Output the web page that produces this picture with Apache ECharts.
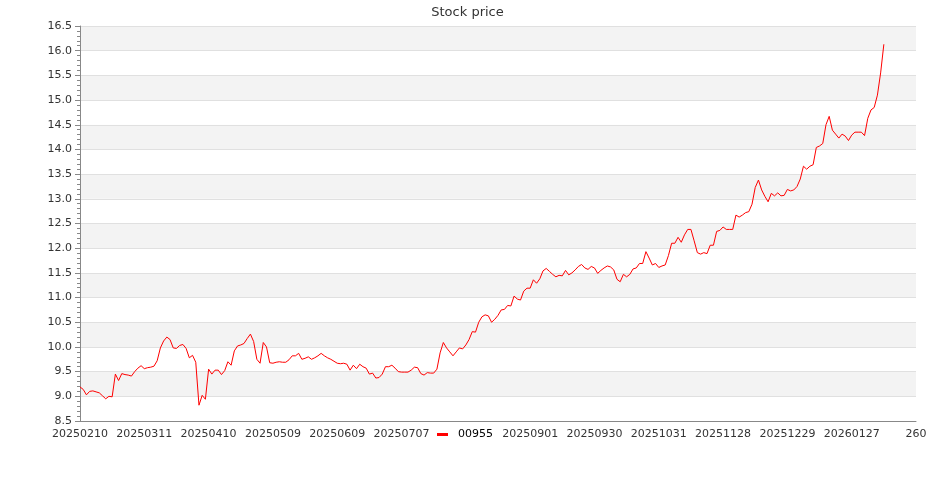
<!DOCTYPE html>
<html>
<head>
<meta charset="utf-8">
<script src="https://cdn.jsdelivr.net/npm/echarts@6/dist/echarts.min.js"></script>
<style>
html,body{margin:0;padding:0;background:#fff;}
#chart{width:935px;height:500px;}
</style>
</head>
<body>
<div id="chart"></div>
<script>
// ---- data ----
const seriesName = '00955';
const tickLabels = ['20250210','20250311','20250410','20250509','20250609','20250707','20250804',
  '20250901','20250930','20251031','20251128','20251229','20260127','260'];
const categoryCount = 261;
const prices = [
  9.19, 9.14, 9.03, 9.10, 9.11, 9.09, 9.07, 9.01, 8.95, 9.00,
  8.99, 9.45, 9.32, 9.46, 9.44, 9.43, 9.41, 9.50, 9.57, 9.62,
  9.56, 9.58, 9.59, 9.61, 9.72, 9.98, 10.12, 10.20, 10.15, 9.98,
  9.97, 10.03, 10.05, 9.97, 9.78, 9.83, 9.69, 8.82, 9.02, 8.94,
  9.55, 9.45, 9.53, 9.53, 9.44, 9.52, 9.70, 9.63, 9.92, 10.02,
  10.04, 10.07, 10.17, 10.26, 10.11, 9.75, 9.67, 10.09, 10.00, 9.68,
  9.67, 9.69, 9.70, 9.69, 9.69, 9.74, 9.82, 9.82, 9.87, 9.75,
  9.77, 9.80, 9.75, 9.78, 9.82, 9.87, 9.82, 9.78, 9.75, 9.71,
  9.67, 9.66, 9.67, 9.65, 9.53, 9.63, 9.56, 9.65, 9.60, 9.57,
  9.45, 9.47, 9.37, 9.38, 9.45, 9.60, 9.60, 9.63, 9.57, 9.50,
  9.49, 9.49, 9.49, 9.53, 9.59, 9.58, 9.46, 9.43, 9.48, 9.47,
  9.47, 9.55, 9.88, 10.09, 9.98, 9.90, 9.82, 9.90, 9.98, 9.96,
  10.04, 10.15, 10.31, 10.30, 10.50, 10.61, 10.65, 10.63, 10.50, 10.56,
  10.64, 10.75, 10.76, 10.84, 10.83, 11.03, 10.97, 10.95, 11.13, 11.19,
  11.19, 11.36, 11.29, 11.38, 11.54, 11.59, 11.53, 11.47, 11.42, 11.45,
  11.44, 11.55, 11.46, 11.50, 11.56, 11.63, 11.67, 11.60, 11.57, 11.63,
  11.60, 11.49, 11.55, 11.60, 11.64, 11.62, 11.56, 11.37, 11.32, 11.47,
  11.42, 11.47, 11.58, 11.60, 11.69, 11.69, 11.93, 11.80, 11.66, 11.69,
  11.61, 11.64, 11.66, 11.85, 12.10, 12.10, 12.22, 12.12, 12.27, 12.38,
  12.38, 12.15, 11.91, 11.88, 11.91, 11.89, 12.06, 12.06, 12.34, 12.36,
  12.43, 12.38, 12.38, 12.38, 12.67, 12.63, 12.67, 12.72, 12.74, 12.89,
  13.23, 13.38, 13.18, 13.05, 12.94, 13.11, 13.06, 13.12, 13.06, 13.07,
  13.19, 13.16, 13.18, 13.25, 13.40, 13.66, 13.60, 13.66, 13.69, 14.04,
  14.07, 14.12, 14.50, 14.67, 14.39, 14.31, 14.23, 14.31, 14.27, 14.18,
  14.29, 14.35, 14.35, 14.35, 14.28, 14.63, 14.80, 14.85, 15.10, 15.55,
  16.13
];
const yMin = 8.5, yMax = 16.5, yStep = 0.5;
const labelEvery = 20;

// ---- chart ----
const categories = Array.from({length: categoryCount}, (_, i) => String(i));
const font = 'DejaVu Sans';
const chart = echarts.init(document.getElementById('chart'), null, {renderer: 'canvas'});
chart.setOption({
  backgroundColor: '#ffffff',
  animation: false,
  textStyle: {fontFamily: font},
  title: {
    text: 'Stock price', left: 'center', top: 1,
    textStyle: {fontFamily: font, fontSize: 13, fontWeight: 'normal', color: '#333'}
  },
  legend: {
    data: [seriesName], top: 424, left: 432,
    backgroundColor: '#ffffff',
    icon: 'rect', itemWidth: 11, itemHeight: 3, itemGap: 10,
    textStyle: {fontFamily: font, fontSize: 11, color: '#000', padding: [0, 0, 0, 5]}
  },
  grid: {left: 80, right: 19, top: 26, bottom: 79, containLabel: false},
  xAxis: {
    type: 'category', data: categories, boundaryGap: false,
    axisLine: {lineStyle: {color: '#888'}},
    axisTick: {show: false},
    axisLabel: {
      interval: labelEvery - 1, margin: 8,
      fontFamily: font, fontSize: 11, color: '#333',
      formatter: (v) => {
        const k = Number(v) / labelEvery;
        return Number.isInteger(k) && tickLabels[k] != null ? tickLabels[k] : '';
      }
    },
    splitLine: {show: false}
  },
  yAxis: {
    type: 'value', min: yMin, max: yMax, interval: yStep,
    axisLine: {show: true, lineStyle: {color: '#888'}},
    axisTick: {show: true, length: 5, lineStyle: {color: '#888'}},
    minorTick: {show: true, splitNumber: 5, length: 3, lineStyle: {color: '#888'}},
    axisLabel: {fontFamily: font, fontSize: 11, color: '#333', margin: 8,
      formatter: v => v.toFixed(1)},
    splitLine: {show: true, lineStyle: {color: '#e0e0e0', width: 1}},
    splitArea: {show: true, areaStyle: {color: ['#ffffff', '#f3f3f3']}}
  },
  series: [{
    name: seriesName, type: 'line', data: prices,
    showSymbol: false, symbol: 'none',
    lineStyle: {color: '#ff0000', width: 1},
    itemStyle: {color: '#ff0000'}
  }]
});
</script>
</body>
</html>
